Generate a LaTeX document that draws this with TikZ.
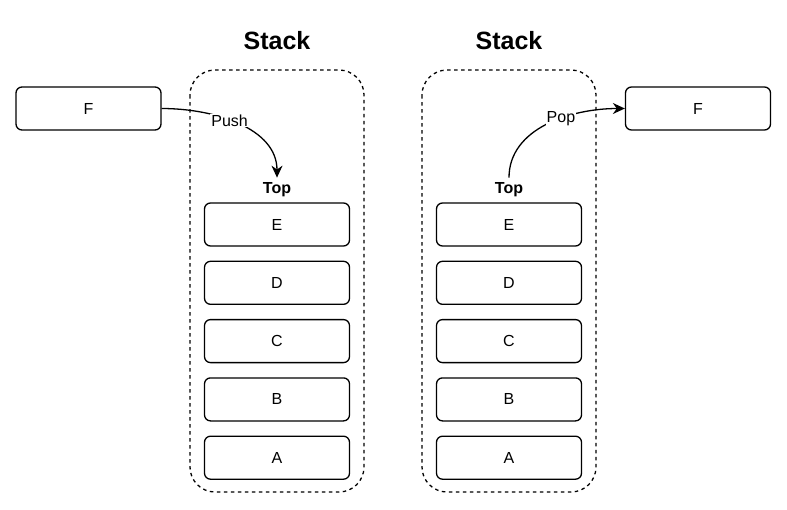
\documentclass[tikz,border=0pt]{standalone}
\usepackage{fontspec}
\setmainfont{Liberation Sans}
\usetikzlibrary{positioning,arrows.meta}
\tikzset{
  item/.style  ={rectangle, rounded corners=6pt, draw=black, line width=1.3pt,
                 minimum width=145pt, minimum height=43pt, inner sep=0pt,
                 font=\fontsize{16}{18}\selectfont},
  frame/.style ={draw=black, line width=1.3pt, dash pattern=on 3.5pt off 3.5pt,
                 rounded corners=25pt},
  title/.style ={font=\fontsize{25}{29}\selectfont\bfseries},
  toplbl/.style={font=\fontsize{16}{18}\selectfont\bfseries, inner sep=1pt},
  lbl/.style   ={fill=white, inner sep=1pt, font=\fontsize{16}{18}\selectfont},
  arr/.style   ={-{Stealth[length=12pt, width=11pt]}, line width=1.3pt},
}
\begin{document}
\begin{tikzpicture}[x=1pt, y=-1pt, node distance=14pt]
  \useasboundingbox (0,0) rectangle (787,509);

  % left stack (push)
  \draw[frame] (190,70) rectangle (364,492);
  \node[title]  (titleL) at (277,41) {Stack};
  \node[toplbl] (topL)   at (277,190) {Top};
  \node[item]   (eL) at (277,224.5) {E};
  \node[item, below=of eL] (dL) {D};
  \node[item, below=of dL] (cL) {C};
  \node[item, below=of cL] (bL) {B};
  \node[item, below=of bL] (aL) {A};
  \node[item]   (fL) at (88.5,108.5) {F};

  \draw[arr, shorten >=4pt] (fL.east) to[out=0, in=90]
    node[lbl, pos=0.43] {Push} (topL.north);

  % right stack (pop)
  \draw[frame] (422,70) rectangle (596,492);
  \node[title]  (titleR) at (509,41) {Stack};
  \node[toplbl] (topR)   at (509,190) {Top};
  \node[item]   (eR) at (509,224.5) {E};
  \node[item, below=of eR] (dR) {D};
  \node[item, below=of dR] (cR) {C};
  \node[item, below=of cR] (bR) {B};
  \node[item, below=of bR] (aR) {A};
  \node[item]   (fR) at (698,108.5) {F};

  \draw[arr, shorten <=4pt] (topR.north) to[out=90, in=180]
    node[lbl, pos=0.6] {Pop} (fR.west);
\end{tikzpicture}
\end{document}
